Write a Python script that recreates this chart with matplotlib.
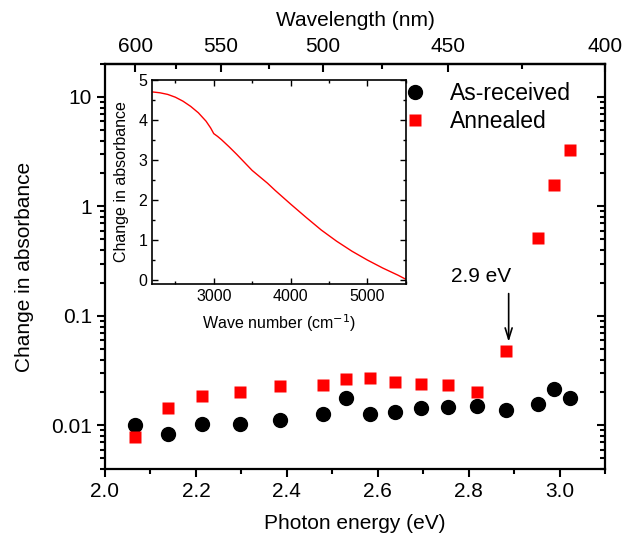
import matplotlib
matplotlib.use("Agg")
import matplotlib.pyplot as plt
from matplotlib.ticker import MultipleLocator, FixedLocator, NullFormatter, LogLocator

plt.rcParams['font.family'] = ['Liberation Sans', 'DejaVu Sans']

# ---------------- data ----------------
energy_ev = [2.066, 2.138, 2.214, 2.296, 2.384, 2.480, 2.530, 2.583,
             2.638, 2.695, 2.755, 2.818, 2.883, 2.952, 2.988, 3.024]
as_received = [0.0100, 0.0083, 0.0102, 0.0102, 0.0111, 0.0127, 0.0177, 0.0127,
               0.0134, 0.0143, 0.0146, 0.0152, 0.0139, 0.0157, 0.0213, 0.0178]
annealed = [0.0078, 0.0145, 0.0187, 0.0202, 0.0231, 0.0234, 0.0266, 0.0272,
            0.0247, 0.0239, 0.0234, 0.0202, 0.0477, 0.512, 1.56, 3.27]

wavelength_ticks = [600, 550, 500, 450, 400]
wavelength_minor = [575, 525, 475, 425]

inset_wavenumber = [2210, 2300, 2400, 2500, 2600, 2700, 2800, 2900, 2960, 3000,
                    3050, 3100, 3200, 3300, 3400, 3500, 3600, 3700, 3800, 3900,
                    4000, 4200, 4400, 4600, 4800, 5000, 5200, 5400, 5490]
inset_absorbance = [4.70, 4.68, 4.64, 4.57, 4.47, 4.34, 4.18, 3.97, 3.80, 3.66,
                    3.59, 3.51, 3.33, 3.14, 2.94, 2.74, 2.58, 2.42, 2.24, 2.07,
                    1.90, 1.57, 1.25, 0.97, 0.72, 0.50, 0.30, 0.12, 0.03]

HC = 1239.84

fig = plt.figure(figsize=(6.26, 5.42), dpi=100)
ax = fig.add_axes([0.1677, 0.1347, 0.7988, 0.7472])

ax.plot(energy_ev, as_received, 'o', color='black', ms=10, label='As-received', zorder=3)
ax.plot(energy_ev, annealed, 's', color='#ff0000', ms=8.5, mec='none', label='Annealed', zorder=3)

ax.set_yscale('log')
ax.set_xlim(2.0, 3.1)
ax.set_ylim(0.004, 20)
ax.xaxis.set_major_locator(MultipleLocator(0.2))
ax.xaxis.set_minor_locator(MultipleLocator(0.1))
ax.set_yticks([0.01, 0.1, 1, 10])
ax.set_yticklabels(['0.01', '0.1', '1', '10'])
ax.yaxis.set_minor_locator(LogLocator(base=10, subs=range(2, 10), numticks=20))
ax.yaxis.set_minor_formatter(NullFormatter())
ax.xaxis.set_major_formatter(matplotlib.ticker.FormatStrFormatter('%.1f'))

ax.tick_params(which='both', direction='out', top=False, right=False, labelsize=15, width=1.5)
ax.tick_params(which='major', length=6)
ax.tick_params(which='minor', length=3.5)
for s in ax.spines.values():
    s.set_linewidth(1.6)

ax.set_xlabel('Photon energy (eV)', fontsize=15, labelpad=9)
ax.set_ylabel('Change in absorbance', fontsize=15, labelpad=12)

# right mirrored ticks (inward)
axr = ax.twinx()
axr.set_yscale('log')
axr.set_ylim(ax.get_ylim())
axr.set_yticks([0.01, 0.1, 1, 10])
axr.yaxis.set_minor_locator(LogLocator(base=10, subs=range(2, 10), numticks=20))
axr.yaxis.set_minor_formatter(NullFormatter())
axr.tick_params(which='both', direction='in', labelright=False, width=1.5)
axr.tick_params(which='major', length=6)
axr.tick_params(which='minor', length=3.5)
for s in axr.spines.values():
    s.set_visible(False)

# top wavelength axis
sec = ax.secondary_xaxis('top', functions=(lambda e: HC / e, lambda w: HC / w))
sec.xaxis.set_major_locator(FixedLocator(wavelength_ticks))
sec.xaxis.set_minor_locator(FixedLocator(wavelength_minor))
sec.xaxis.set_minor_formatter(NullFormatter())
sec.tick_params(which='both', direction='in', labelsize=15, width=1.5)
sec.tick_params(which='major', length=6, pad=6)
sec.tick_params(which='minor', length=3.5)
sec.spines['top'].set_linewidth(1.6)
sec.set_xlabel('Wavelength (nm)', fontsize=15, labelpad=8)

# legend
leg = ax.legend(loc='upper left', bbox_to_anchor=(0.58, 0.979), frameon=False,
                fontsize=16.5, handlelength=0.95, handletextpad=1.05, labelspacing=0.25,
                borderaxespad=0.0)

# annotation
ax.text(2.828, 0.2275, '2.9 eV', fontsize=15, ha='center', va='center')
ax.annotate('', xy=(2.888, 0.058), xytext=(2.888, 0.16),
            arrowprops=dict(arrowstyle='->,head_width=0.25,head_length=0.8',
                            lw=1.2, color='black', shrinkA=0, shrinkB=0))

# inset
axi = fig.add_axes([0.2433, 0.476, 0.4048, 0.3764])
axi.plot(inset_wavenumber, inset_absorbance, color='#ff0000', lw=1.0)
axi.set_xlim(2200, 5500)
axi.set_ylim(-0.1, 5)
axi.xaxis.set_major_locator(MultipleLocator(1000))
axi.xaxis.set_minor_locator(MultipleLocator(500))
axi.yaxis.set_major_locator(MultipleLocator(1))
axi.yaxis.set_minor_locator(MultipleLocator(0.5))
axi.tick_params(which='both', direction='in', top=True, right=True, labelsize=11.5, width=1.0)
axi.tick_params(which='major', length=4)
axi.tick_params(which='minor', length=2)
for s in axi.spines.values():
    s.set_linewidth(1.2)
axi.set_xlabel('Wave number (cm$^{-1}$)', fontsize=11.5, labelpad=6)
axi.set_ylabel('Change in absorbance', fontsize=11.5, labelpad=7)

fig.savefig('out.png', dpi=100)
